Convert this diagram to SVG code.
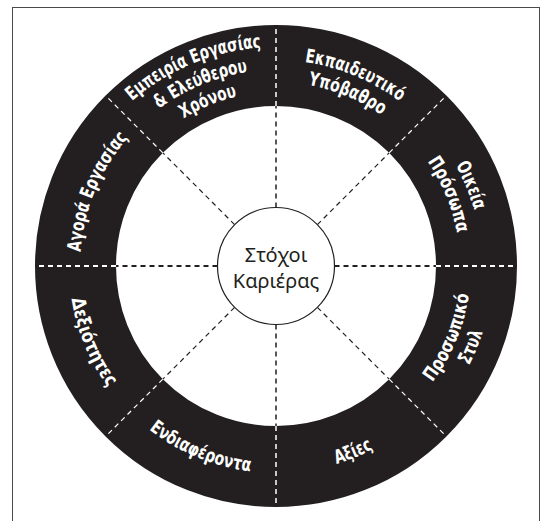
<svg xmlns="http://www.w3.org/2000/svg" xmlns:xlink="http://www.w3.org/1999/xlink" width="544" height="521" viewBox="0 0 544 521">
<style>
.lbl{font-family:'Liberation Sans Narrow','DejaVu Sans Condensed','Open Sans',sans-serif;font-weight:bold;font-size:19px;fill:#ffffff;text-anchor:middle}
.ctr{font-family:'Noto Sans','Open Sans',sans-serif;font-size:20px;fill:#231f20;text-anchor:middle}
.dk{stroke:#231f20;stroke-dasharray:5 4;fill:none}
.wt{stroke:#ffffff;stroke-dasharray:5 4;fill:none}
.h{stroke-width:2}
.v{stroke-width:1.5}
.d{stroke-width:1.2}
</style>
<defs>
<path id="t219" d="M135.229 98.234 A219 219 0 0 1 416.771 98.234"/>
<path id="t206" d="M143.586 108.195 A206 206 0 0 1 408.414 108.195"/>
<path id="t196" d="M150.014 115.855 A196 196 0 0 1 401.986 115.855"/>
<path id="t184" d="M157.727 125.049 A184 184 0 0 1 394.273 125.049"/>
<path id="t174" d="M164.155 132.708 A174 174 0 0 1 387.845 132.708"/>
<path id="b195" d="M150.656 415.379 A195 195 0 0 0 401.344 415.379"/>
<path id="b207" d="M142.943 424.571 A207 207 0 0 0 409.057 424.571"/>
<path id="b217" d="M136.515 432.232 A217 217 0 0 0 415.485 432.232"/>
</defs>
<rect x="12.5" y="7.5" width="527" height="530" fill="#ffffff" stroke="#4a4a4a" stroke-width="1"/>
<g id="ring">
<circle cx="276" cy="266" r="200.5" fill="none" stroke="#231f20" stroke-width="81"/>
</g>
<g id="connectors">
<path class="dk h" d="M334.5 266 H436 M217.5 266 H116"/>
<path class="dk v" d="M276 207.5 V106 M276 324.5 V426"/>
<path class="dk d" d="M317.37 224.63 L389.14 152.86 M234.63 224.63 L162.86 152.86 M317.37 307.37 L389.14 379.14 M234.63 307.37 L162.86 379.14"/>
<path class="wt h" d="M436 266 H517 M116 266 H35"/>
<path class="wt v" d="M276 106 V25 M276 426 V507"/>
<path class="wt d" d="M389.14 152.86 L446.41 95.59 M162.86 152.86 L105.59 95.59 M389.14 379.14 L446.41 436.41 M162.86 379.14 L105.59 436.41"/>
</g>
<g id="center">
<circle cx="276" cy="266" r="58.5" fill="#ffffff" stroke="#231f20" stroke-width="1.2"/>
<text class="ctr" x="276" y="262">Στόχοι</text>
<text class="ctr" x="276" y="288">Καριέρας</text>
</g>
<g id="n-empeiria" transform="rotate(-22.5 276 266)">
<text class="lbl"><textPath xlink:href="#t219" href="#t219" startOffset="50%" textLength="142" lengthAdjust="spacingAndGlyphs">Εμπειρία Εργασίας</textPath></text>
<text class="lbl"><textPath xlink:href="#t196" href="#t196" startOffset="50%" textLength="97" lengthAdjust="spacingAndGlyphs">&amp; Ελεύθερου</textPath></text>
<text class="lbl"><textPath xlink:href="#t174" href="#t174" startOffset="50%" textLength="58" lengthAdjust="spacingAndGlyphs">Χρόνου</textPath></text>
</g>
<g id="n-ekpaideftiko" transform="rotate(22.5 276 266)">
<text class="lbl"><textPath xlink:href="#t206" href="#t206" startOffset="50%" textLength="104" lengthAdjust="spacingAndGlyphs">Εκπαιδευτικό</textPath></text>
<text class="lbl"><textPath xlink:href="#t184" href="#t184" startOffset="50%" textLength="80" lengthAdjust="spacingAndGlyphs">Υπόβαθρο</textPath></text>
</g>
<g id="n-oikeia" transform="rotate(67.5 276 266)">
<text class="lbl"><textPath xlink:href="#t206" href="#t206" startOffset="50%" textLength="49" lengthAdjust="spacingAndGlyphs">Οικεία</textPath></text>
<text class="lbl"><textPath xlink:href="#t184" href="#t184" startOffset="50%" textLength="78" lengthAdjust="spacingAndGlyphs">Πρόσωπα</textPath></text>
</g>
<g id="n-prosopiko" transform="rotate(-67.5 276 266)">
<text class="lbl"><textPath xlink:href="#b195" href="#b195" startOffset="50%" textLength="96" lengthAdjust="spacingAndGlyphs">Προσωπικό</textPath></text>
<text class="lbl"><textPath xlink:href="#b217" href="#b217" startOffset="50%" textLength="36" lengthAdjust="spacingAndGlyphs">Στυλ</textPath></text>
</g>
<g id="n-axies" transform="rotate(-22.5 276 266)">
<text class="lbl"><textPath xlink:href="#b207" href="#b207" startOffset="50%" textLength="40" lengthAdjust="spacingAndGlyphs">Αξίες</textPath></text>
</g>
<g id="n-endiaferonta" transform="rotate(22.5 276 266)">
<text class="lbl"><textPath xlink:href="#b207" href="#b207" startOffset="50%" textLength="111" lengthAdjust="spacingAndGlyphs">Ενδιαφέροντα</textPath></text>
</g>
<g id="n-dexiotites" transform="rotate(67.5 276 266)">
<text class="lbl"><textPath xlink:href="#b207" href="#b207" startOffset="50%" textLength="97" lengthAdjust="spacingAndGlyphs">Δεξιότητες</textPath></text>
</g>
<g id="n-agora" transform="rotate(-67.5 276 266)">
<text class="lbl"><textPath xlink:href="#t196" href="#t196" startOffset="50%" textLength="126" lengthAdjust="spacingAndGlyphs">Αγορά Εργασίας</textPath></text>
</g>
</svg>
